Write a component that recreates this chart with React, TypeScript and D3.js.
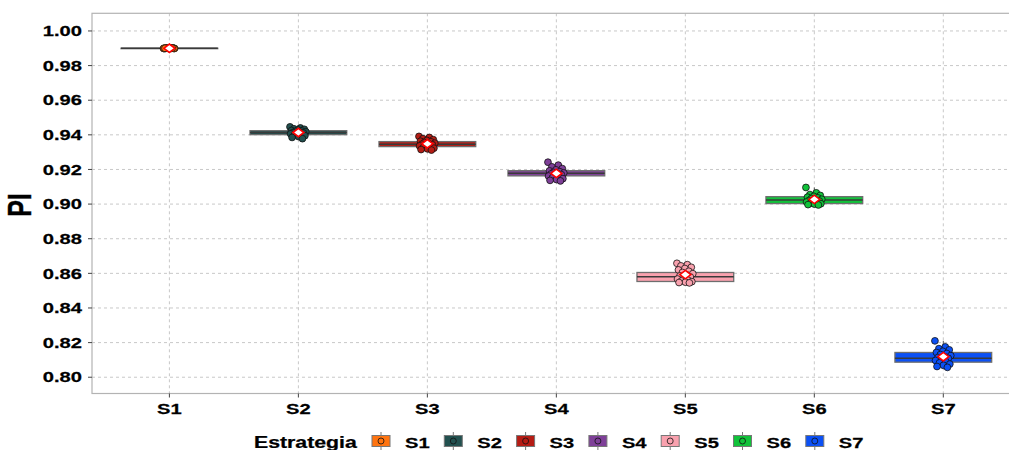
import React from "react";
import * as d3 from "d3";

const categories = ["S1", "S2", "S3", "S4", "S5", "S6", "S7"];
const colors = ["#FF7410", "#22504F", "#B51C14", "#7E3F98", "#F9A1AE", "#11C23A", "#0B50F5"];

const q1s = [0.98995, 0.9401, 0.9332, 0.9163, 0.8553, 0.9003, 0.8087];
const medians = [0.9900, 0.9413, 0.9346, 0.9178, 0.8580, 0.9023, 0.8110];
const q3s = [0.99005, 0.9424, 0.9361, 0.9193, 0.8605, 0.9043, 0.8143];

const pointsS1 = [0.9899, 0.9900, 0.9901, 0.9900, 0.9902, 0.9898, 0.9900, 0.9901, 0.9899, 0.9900, 0.9900, 0.9901, 0.9899, 0.9900, 0.9900, 0.9901, 0.9899, 0.9900, 0.9900, 0.9901];
const pointsS2 = [0.9446, 0.9440, 0.9435, 0.9432, 0.9428, 0.9425, 0.9422, 0.9420, 0.9418, 0.9415, 0.9413, 0.9411, 0.9409, 0.9406, 0.9403, 0.9400, 0.9395, 0.9390, 0.9385, 0.9378];
const pointsS3 = [0.9391, 0.9385, 0.9378, 0.9372, 0.9368, 0.9363, 0.9360, 0.9356, 0.9352, 0.9349, 0.9346, 0.9343, 0.9340, 0.9336, 0.9332, 0.9328, 0.9323, 0.9319, 0.9315, 0.9312];
const pointsS4 = [0.9242, 0.9225, 0.9215, 0.9205, 0.9198, 0.9192, 0.9187, 0.9183, 0.9180, 0.9177, 0.9174, 0.9170, 0.9166, 0.9162, 0.9158, 0.9153, 0.9147, 0.9142, 0.9137, 0.9134];
const pointsS5 = [0.8658, 0.8650, 0.8643, 0.8635, 0.8628, 0.8620, 0.8612, 0.8605, 0.8598, 0.8592, 0.8585, 0.8579, 0.8573, 0.8567, 0.8561, 0.8556, 0.8552, 0.8549, 0.8547, 0.8545];
const pointsS6 = [0.9096, 0.9065, 0.9055, 0.9050, 0.9045, 0.9040, 0.9036, 0.9032, 0.9028, 0.9024, 0.9021, 0.9018, 0.9015, 0.9012, 0.9008, 0.9005, 0.9002, 0.9000, 0.8997, 0.8995];
const pointsS7 = [0.8210, 0.8175, 0.8165, 0.8158, 0.8150, 0.8143, 0.8137, 0.8131, 0.8125, 0.8119, 0.8114, 0.8109, 0.8103, 0.8097, 0.8090, 0.8083, 0.8076, 0.8069, 0.8062, 0.8057];
const allPoints = [pointsS1, pointsS2, pointsS3, pointsS4, pointsS5, pointsS6, pointsS7];

const yTicks = [0.80, 0.82, 0.84, 0.86, 0.88, 0.90, 0.92, 0.94, 0.96, 0.98, 1.00];

const W = 1009, H = 450;
const panel = { left: 92, right: 1020.7, top: 13.3, bottom: 393.5 };
const SX = 1.3;
const FONT = "'Liberation Sans', Arial, sans-serif";

export default function App() {
  const y = d3.scaleLinear().domain([0.7906, 1.0102]).range([panel.bottom, panel.top]);
  const step = (panel.right - panel.left) / 7.2;
  const x = d3.scalePoint<string>().domain(categories).range([panel.left + 0.6 * step, panel.right - 0.6 * step]);
  const boxW = 0.75 * step;
  const jitter = 0.065 * step;

  return (
    <svg width={W} height={H} style={{ position: "absolute", left: 0, top: 0, background: "#fff" }} fontFamily={FONT}>
      <defs>
        <clipPath id="pc"><rect x={panel.left} y={panel.top} width={panel.right - panel.left} height={panel.bottom - panel.top} /></clipPath>
      </defs>
      <rect x={panel.left} y={panel.top} width={panel.right - panel.left} height={panel.bottom - panel.top} fill="#fff" />
      <g stroke="#C8C8C8" strokeWidth={1} strokeDasharray="3,3">
        {yTicks.map((t) => (
          <line key={"gy" + t} x1={panel.left} x2={panel.right} y1={y(t)} y2={y(t)} />
        ))}
        {categories.map((c) => (
          <line key={"gx" + c} x1={x(c)} x2={x(c)} y1={panel.top} y2={panel.bottom} />
        ))}
      </g>
      <g clipPath="url(#pc)">
        {categories.map((c, i) => {
          const cx = x(c)!;
          const pts = allPoints[i];
          const iqr = q3s[i] - q1s[i];
          const lo = d3.min(pts.filter((v) => v >= q1s[i] - 1.5 * iqr)) ?? q1s[i];
          const hi = d3.max(pts.filter((v) => v <= q3s[i] + 1.5 * iqr)) ?? q3s[i];
          return (
            <g key={"b" + c}>
              <line x1={cx} x2={cx} y1={y(hi)} y2={y(q3s[i])} stroke="#555" strokeWidth={1} />
              <line x1={cx} x2={cx} y1={y(q1s[i])} y2={y(lo)} stroke="#555" strokeWidth={1} />
              <rect x={cx - boxW / 2} y={y(q3s[i])} width={boxW} height={Math.max(0.5, y(q1s[i]) - y(q3s[i]))}
                fill={colors[i]} stroke="#6E6E6E" strokeWidth={1.3} />
              <line x1={cx - boxW / 2} x2={cx + boxW / 2} y1={y(medians[i])} y2={y(medians[i])} stroke="#3A3A3A" strokeWidth={1.5} />
            </g>
          );
        })}
        {categories.map((c, i) => {
          const cx = x(c)!;
          const pts = allPoints[i];
          const jw = i === 0 ? jitter * 0.7 : jitter;
          return (
            <g key={"p" + c}>
              {pts.map((v, j) => {
                const off = (((j * 0.6180339887) % 1) - 0.5) * 2 * jw;
                return <circle key={j} cx={cx + off} cy={y(v)} r={3.4} fill={colors[i]} stroke="#111" strokeWidth={0.8} />;
              })}
            </g>
          );
        })}
        {categories.map((c, i) => {
          const cx = x(c)!;
          const m = d3.mean(allPoints[i])!;
          const cy = y(m);
          const hw = 5.5, hh = 4.2;
          return (
            <path key={"m" + c} d={`M${cx - hw},${cy} L${cx},${cy - hh} L${cx + hw},${cy} L${cx},${cy + hh} Z`}
              fill="#fff" stroke="#FF0000" strokeWidth={1.6} />
          );
        })}
      </g>
      <rect x={panel.left} y={panel.top} width={panel.right - panel.left} height={panel.bottom - panel.top}
        fill="none" stroke="#B3B3B3" strokeWidth={1.2} />
      <g stroke="#444" strokeWidth={1}>
        {yTicks.map((t) => (
          <line key={"ty" + t} x1={panel.left - 4} x2={panel.left} y1={y(t)} y2={y(t)} />
        ))}
        {categories.map((c) => (
          <line key={"tx" + c} x1={x(c)} x2={x(c)} y1={panel.bottom} y2={panel.bottom + 4} />
        ))}
      </g>
      {yTicks.map((t) => (
        <text key={"ly" + t} transform={`translate(82,${y(t)}) scale(${SX},1)`} textAnchor="end" dominantBaseline="central"
          fontSize={15.5} fontWeight="bold" fill="#000" stroke="#000" strokeWidth={0.25}>{d3.format(".2f")(t)}</text>
      ))}
      {categories.map((c) => (
        <text key={"lx" + c} transform={`translate(${x(c)},413.5) scale(${SX},1)`} textAnchor="middle"
          fontSize={15.5} fontWeight="bold" fill="#000" stroke="#000" strokeWidth={0.25}>{c}</text>
      ))}
      <text transform={`translate(31,205) rotate(-90) scale(1,${SX})`} textAnchor="middle" fontSize={25} fontWeight="bold" fill="#000" stroke="#000" strokeWidth={0.3}>PI</text>
      <text transform={`translate(254,447.5) scale(1.33,1)`} fontSize={16} fontWeight="bold" fill="#000" stroke="#000" strokeWidth={0.25}>Estrategia</text>
      {categories.map((c, i) => {
        const kx = 372 + 72.3 * i;
        const ky = 441;
        return (
          <g key={"lg" + c}>
            <line x1={kx + 9} x2={kx + 9} y1={ky - 9} y2={ky + 9} stroke="#777" strokeWidth={1} />
            <rect x={kx} y={ky - 5.5} width={18} height={11} fill={colors[i]} stroke="#777" strokeWidth={1} />
            <circle cx={kx + 9} cy={ky} r={3} fill={colors[i]} stroke="#111" strokeWidth={0.8} />
            <text transform={`translate(${kx + 33},447.5) scale(${SX},1)`} fontSize={15.5} fontWeight="bold" fill="#000" stroke="#000" strokeWidth={0.25}>{c}</text>
          </g>
        );
      })}
    </svg>
  );
}
